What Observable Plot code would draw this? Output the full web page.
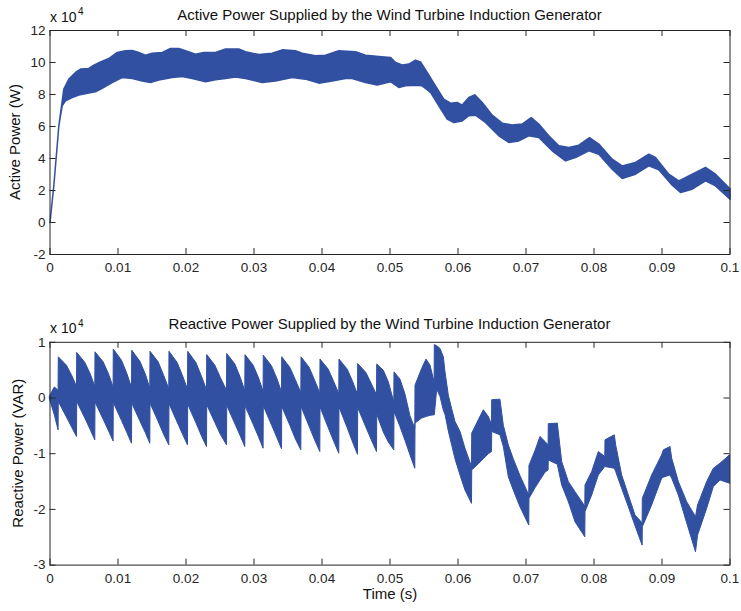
<!DOCTYPE html>
<html><head><meta charset="utf-8">
<script src="https://cdn.jsdelivr.net/npm/d3@7"></script>
<script src="https://cdn.jsdelivr.net/npm/@observablehq/plot@0.6"></script>
<style>
body{margin:0;background:#fff;}
#wrap{position:relative;width:741px;height:611px;overflow:hidden;}
#wrap svg{position:absolute;left:0;}
</style></head><body><div id="wrap"></div>
<script>
// ---- Data (values in units of 10^4) ----
const xTicks = [0, 0.01, 0.02, 0.03, 0.04, 0.05, 0.06, 0.07, 0.08, 0.09, 0.1];
const activeYTicks = [-2, 0, 2, 4, 6, 8, 10, 12];
const reactiveYTicks = [-3, -2, -1, 0, 1];

const titleActive = "Active Power Supplied by the Wind Turbine Induction Generator";
const titleReactive = "Reactive Power Supplied by the Wind Turbine Induction Generator";
const labelActive = "Active Power (W)";
const labelReactive = "Reactive Power (VAR)";
const labelTime = "Time (s)";

// Active power: upper envelope [t, P x1e4]
const activeUpper = [[0,0],[0.00056,2.29],[0.0013,6.04],[0.00203,8.34],[0.00277,8.96],[0.00375,9.38],[0.00449,9.59],[0.0057,9.63],[0.00645,9.84],[0.00743,10.04],[0.00865,10.25],[0.00988,10.63],[0.0111,10.73],[0.0121,10.75],[0.01306,10.63],[0.01404,10.46],[0.01503,10.58],[0.0165,10.63],[0.01772,10.88],[0.01894,10.88],[0.01993,10.73],[0.0214,10.52],[0.02262,10.63],[0.02434,10.63],[0.02581,10.84],[0.02777,10.84],[0.02875,10.67],[0.0307,10.5],[0.03267,10.58],[0.03414,10.79],[0.0361,10.73],[0.03708,10.58],[0.03904,10.42],[0.04051,10.46],[0.04247,10.73],[0.04493,10.67],[0.0464,10.46],[0.04836,10.38],[0.05007,10.32],[0.05081,10.0],[0.0518,9.84],[0.05277,9.9],[0.05375,10.15],[0.05449,10.04],[0.05547,9.38],[0.05669,8.54],[0.05791,7.71],[0.0589,7.46],[0.05988,7.5],[0.06062,7.34],[0.06159,7.81],[0.06247,7.98],[0.06356,7.5],[0.06503,6.71],[0.0665,6.21],[0.06797,6.09],[0.06944,6.15],[0.07076,6.56],[0.07188,6.15],[0.07335,5.42],[0.07483,4.79],[0.0763,4.69],[0.07777,4.83],[0.07934,5.31],[0.08071,4.9],[0.08267,3.96],[0.08414,3.54],[0.0861,3.75],[0.08806,4.27],[0.08904,4.06],[0.091,3.02],[0.09247,2.6],[0.09444,3.02],[0.0964,3.44],[0.09787,3.02],[0.1,2.1]];
// Active power: lower envelope [t, P x1e4]
const activeLower = [[0,0],[0.00056,2.29],[0.0013,6.04],[0.00179,7.29],[0.00228,7.61],[0.00326,7.81],[0.00424,7.96],[0.0057,8.09],[0.00669,8.17],[0.00767,8.38],[0.00914,8.75],[0.01061,9.06],[0.0121,9.0],[0.01355,8.85],[0.01478,8.75],[0.016,8.9],[0.01797,9.06],[0.01944,9.13],[0.02091,9.0],[0.02287,8.79],[0.02434,8.92],[0.02581,9.0],[0.02728,9.1],[0.02875,9.0],[0.0312,8.75],[0.03316,8.85],[0.03561,9.06],[0.03757,8.96],[0.03953,8.71],[0.0415,8.85],[0.04346,9.0],[0.04444,9.0],[0.0464,8.75],[0.04811,8.59],[0.05007,8.8],[0.0513,8.44],[0.05228,8.54],[0.05375,8.58],[0.05473,8.54],[0.05596,8.13],[0.05718,7.29],[0.05841,6.46],[0.05938,6.25],[0.06062,6.35],[0.06159,6.67],[0.06257,6.71],[0.06404,6.25],[0.066,5.42],[0.06747,5.0],[0.06894,5.1],[0.07041,5.42],[0.07188,5.31],[0.07385,4.48],[0.07581,3.85],[0.07728,4.06],[0.07924,4.48],[0.08071,4.27],[0.08267,3.33],[0.08414,2.75],[0.0861,3.02],[0.08806,3.54],[0.08953,3.29],[0.0915,2.33],[0.09272,1.88],[0.09444,2.08],[0.0964,2.6],[0.09787,2.29],[0.1,1.46]];

// Reactive power envelope: time, upper edge, lower edge (x1e4 VAR)
const reactiveT = [0,0.00071,0.00126,
0.00129,0.00249,0.00329,0.00397,
0.00400,0.00520,0.00600,0.00666,
0.00669,0.00789,0.00869,0.00935,
0.00938,0.01058,0.01138,0.01206,
0.01209,0.01329,0.01409,0.01475,
0.01478,0.01598,0.01678,0.01754,
0.01757,0.01877,0.01957,0.02029,
0.02032,0.02152,0.02232,0.02309,
0.02312,0.02432,0.02512,0.02603,
0.02606,0.02726,0.02806,0.02872,
0.02875,0.02995,0.03075,0.03141,
0.03144,0.03264,0.03344,0.03412,
0.03415,0.03535,0.03615,0.03696,
0.03699,0.03819,0.03899,0.03975,
0.03978,0.04098,0.04178,0.04254,
0.04257,0.04377,0.04457,0.04529,
0.04532,0.04652,0.04732,0.04809,
0.04812,0.04909,0.04983,0.05063,
0.05066,0.05154,0.05228,0.05301,0.05372,
0.05375,0.05472,0.05537,0.05596,0.05656,
0.05659,0.05694,0.05743,0.05792,0.05816,0.05865,0.05914,0.05963,0.06037,0.06110,0.06206,
0.06209,0.06306,0.06380,0.06453,0.06500,
0.06503,0.06624,0.06674,0.06747,0.06820,0.06918,0.07048,
0.07051,0.07140,0.07213,0.07287,0.07332,
0.07335,0.07468,0.07532,0.07630,0.07728,0.07872,
0.07875,0.07973,0.08071,0.08166,
0.08169,0.08306,0.08326,0.08414,0.08512,0.08610,0.08715,
0.08718,0.08855,0.09002,0.09027,0.09125,0.09150,0.09248,0.09370,0.09500,
0.09530,0.09664,0.09762,0.09860,0.10000];
const reactiveHi = [0.03,0.19,0.13,
0.73,0.58,0.39,0.20,
0.81,0.63,0.42,0.20,
0.82,0.64,0.42,0.19,
0.87,0.67,0.43,0.18,
0.85,0.65,0.42,0.17,
0.83,0.64,0.40,0.16,
0.83,0.63,0.39,0.15,
0.83,0.63,0.39,0.14,
0.77,0.58,0.36,0.13,
0.79,0.60,0.36,0.12,
0.77,0.58,0.35,0.11,
0.76,0.57,0.34,0.10,
0.73,0.54,0.32,0.09,
0.73,0.54,0.31,0.08,
0.69,0.51,0.29,0.07,
0.69,0.51,0.29,0.06,
0.61,0.45,0.25,0.05,
0.60,0.49,0.28,-0.08,
0.46,0.33,0.06,-0.33,-0.55,
0.22,0.52,0.69,0.58,0.28,
0.95,0.93,0.88,0.73,0.46,0.04,-0.20,-0.43,-0.61,-0.91,-1.24,
-0.64,-0.40,-0.22,-0.34,-0.48,
-0.04,-0.03,-0.50,-0.85,-1.10,-1.40,-1.75,
-1.22,-0.95,-0.70,-0.79,-0.85,
-0.47,-0.46,-1.15,-1.51,-1.69,-1.95,
-1.57,-1.33,-0.97,-1.06,
-0.76,-0.67,-0.85,-1.39,-1.75,-2.11,-2.25,
-1.81,-1.39,-1.03,-0.94,-0.88,-1.09,-1.51,-1.87,-2.14,
-1.93,-1.51,-1.27,-1.18,-1.03];
const reactiveLo = [-0.03,-0.31,-0.58,
-0.07,-0.35,-0.54,-0.70,
-0.07,-0.37,-0.58,-0.76,
-0.08,-0.39,-0.60,-0.78,
-0.09,-0.41,-0.63,-0.82,
-0.10,-0.42,-0.63,-0.82,
-0.10,-0.43,-0.66,-0.85,
-0.11,-0.44,-0.66,-0.85,
-0.12,-0.45,-0.68,-0.88,
-0.13,-0.45,-0.66,-0.85,
-0.14,-0.47,-0.69,-0.88,
-0.15,-0.48,-0.71,-0.91,
-0.15,-0.49,-0.72,-0.92,
-0.16,-0.50,-0.74,-0.94,
-0.16,-0.52,-0.76,-0.97,
-0.17,-0.54,-0.78,-1.00,
-0.17,-0.54,-0.80,-1.02,
-0.18,-0.53,-0.76,-0.97,
-0.30,-0.62,-0.80,-0.94,
-0.25,-0.52,-0.77,-1.03,-1.27,
-0.46,-0.37,-0.34,-0.32,-0.31,
-0.31,0.15,0.02,-0.23,-0.30,-0.60,-0.85,-1.10,-1.39,-1.66,-1.90,
-1.30,-1.19,-1.10,-1.01,-0.97,
-0.61,-0.67,-0.88,-1.42,-1.66,-1.96,-2.29,
-1.81,-1.62,-1.48,-1.34,-1.30,
-1.12,-1.20,-1.57,-1.87,-2.23,-2.50,
-2.05,-1.75,-1.39,-1.24,
-1.24,-1.27,-1.33,-1.63,-1.96,-2.30,-2.65,
-2.32,-1.93,-1.45,-1.43,-1.39,-1.45,-1.75,-2.25,-2.77,
-2.47,-1.99,-1.60,-1.48,-1.54];

// ---- Rendering ----
const BLUE = "#3150a1";
const INK = "#262626";
const FONT = "Liberation Sans, Arial, Helvetica, sans-serif";
const W = 741, ML = 49.5, MR = 11.5;
const wrap = document.getElementById("wrap");

function panel({offsetTop, height, mt, mb, yDomain, yTicks, bandMarks}) {
  const fh = height - mt - mb, fw = W - ML - MR;
  const svg = Plot.plot({
    width: W, height,
    marginTop: mt, marginBottom: mb, marginLeft: ML, marginRight: MR,
    style: {fontFamily: FONT, fontSize: "13.5px", color: INK, background: "transparent", overflow: "visible"},
    x: {domain: [0, 0.1]},
    y: {domain: yDomain},
    marks: [
      ...bandMarks,
      Plot.frame({stroke: INK, strokeWidth: 1}),
      Plot.ruleX(xTicks, {x: d => d, insetTop: fh - 6, stroke: INK}),
      Plot.ruleX(xTicks, {x: d => d, insetBottom: fh - 6, stroke: INK}),
      Plot.ruleY(yTicks, {y: d => d, insetRight: fw - 6, stroke: INK}),
      Plot.ruleY(yTicks, {y: d => d, insetLeft: fw - 6, stroke: INK}),
      Plot.axisX({ticks: xTicks, tickSize: 0, tickPadding: 8, tickFormat: d => String(d), label: null, fill: INK}),
      Plot.axisY({ticks: yTicks, tickSize: 0, tickPadding: 4.5, tickFormat: d => String(d), label: null, fill: INK})
    ]
  });
  svg.style.top = offsetTop + "px";
  wrap.appendChild(svg);
  return d3.select(svg);
}

function addText(sel, {x, y, text, size, anchor = "start", rotate = 0}) {
  sel.append("text")
    .attr("transform", `translate(${x},${y}) rotate(${rotate})`)
    .attr("text-anchor", anchor)
    .attr("font-family", FONT)
    .attr("font-size", size)
    .attr("fill", "#111")
    .text(text);
}

// Top panel
const activeOutline = [...activeUpper, ...activeLower.slice().reverse()].map(([t, v]) => ({t, v}));
const panelA = panel({
  offsetTop: 0, height: 300, mt: 30, mb: 46,
  yDomain: [-2, 12], yTicks: activeYTicks,
  bandMarks: [Plot.line(activeOutline, {x: "t", y: "v", fill: BLUE, stroke: BLUE, strokeWidth: 1.5, strokeLinejoin: "round"})]
});
addText(panelA, {x: 389.5, y: 19.5, text: titleActive, size: 15, anchor: "middle"});
addText(panelA, {x: 50, y: 21.5, text: "x 10", size: 14});
addText(panelA, {x: 78, y: 15, text: "4", size: 10});
addText(panelA, {x: 19.5, y: 142, text: labelActive, size: 15, anchor: "middle", rotate: -90});

// Bottom panel
const reactiveRows = reactiveT.map((t, i) => ({t, hi: reactiveHi[i], lo: reactiveLo[i]}));
const panelB = panel({
  offsetTop: 300, height: 311, mt: 41.8, mb: 46.4,
  yDomain: [-3, 1], yTicks: reactiveYTicks,
  bandMarks: [
    Plot.areaY(reactiveRows, {x: "t", y1: "lo", y2: "hi", fill: BLUE, stroke: BLUE, strokeWidth: 1, strokeLinejoin: "round"})
  ]
});
addText(panelB, {x: 389.5, y: 29.3, text: titleReactive, size: 15, anchor: "middle"});
addText(panelB, {x: 50, y: 33.3, text: "x 10", size: 14});
addText(panelB, {x: 78, y: 27, text: "4", size: 10});
addText(panelB, {x: 23, y: 153.2, text: labelReactive, size: 15, anchor: "middle", rotate: -90});
addText(panelB, {x: 390, y: 299, text: labelTime, size: 15, anchor: "middle"});
</script>
</body></html>
